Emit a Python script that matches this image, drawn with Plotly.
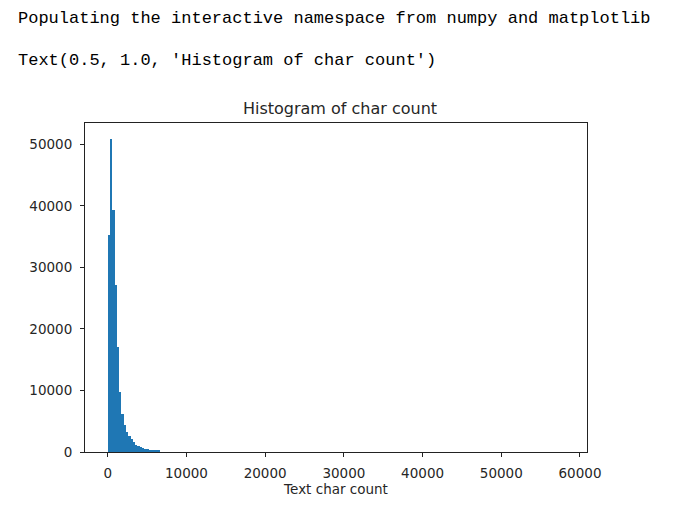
import plotly.graph_objects as go

# histogram of text char count (200 bins between min and max, only the visible ones listed)
bin_start = 1
bin_end = 57990
n_bins = 200
counts = [35200, 50800, 39300, 27200, 17100, 9800, 6100, 4400, 3300, 2600,
          2050, 1700, 1150, 900, 750, 600, 500, 450, 400, 350,
          320, 300, 280]

x_ticks = [0, 10000, 20000, 30000, 40000, 50000, 60000]
y_ticks = [0, 10000, 20000, 30000, 40000, 50000]

width = (bin_end - bin_start) / n_bins
centers = [bin_start + width * (i + 0.5) for i in range(len(counts))]

fig = go.Figure()
fig.add_trace(go.Bar(x=centers, y=counts, width=width,
                     marker=dict(color="#1f77b4", line=dict(width=0))))

# notebook output lines above the figure
fig.add_annotation(text="Populating the interactive namespace from numpy and matplotlib",
                   xref="paper", yref="paper", x=-0.1375, y=1.317,
                   xanchor="left", yanchor="middle", showarrow=False,
                   font=dict(family="Liberation Mono", size=17, color="#000"))
fig.add_annotation(text="Text(0.5, 1.0, 'Histogram of char count')",
                   xref="paper", yref="paper", x=-0.1375, y=1.191,
                   xanchor="left", yanchor="middle", showarrow=False,
                   font=dict(family="Liberation Mono", size=17, color="#000"))

axis_style = dict(showline=True, mirror=True, linecolor="#222", linewidth=1,
                  ticks="outside", ticklen=4, tickcolor="#222", showgrid=False,
                  zeroline=False, tickformat="d", ticklabelstandoff=5,
                  tickfont=dict(family="DejaVu Sans", size=13.5, color="#262626"))

# page body has an 8px margin, so the figure is 8px smaller than the window
fig.update_layout(
    width=668, height=502,
    margin=dict(l=77, r=89, t=115, b=58),
    paper_bgcolor="white", plot_bgcolor="white",
    showlegend=False, bargap=0,
    title=dict(text="Histogram of char count", x=0.497, xanchor="center",
               yref="container", y=1 - 100 / 502, yanchor="middle",
               font=dict(family="DejaVu Sans", size=16, color="#262626")),
    xaxis=dict(range=[-2890, 60890], tickvals=x_ticks,
               title=dict(text="Text char count", standoff=4,
                          font=dict(family="DejaVu Sans", size=13.5, color="#262626")),
               **axis_style),
    yaxis=dict(range=[0, 53460], tickvals=y_ticks, **axis_style),
)

fig.write_html("out.html")
